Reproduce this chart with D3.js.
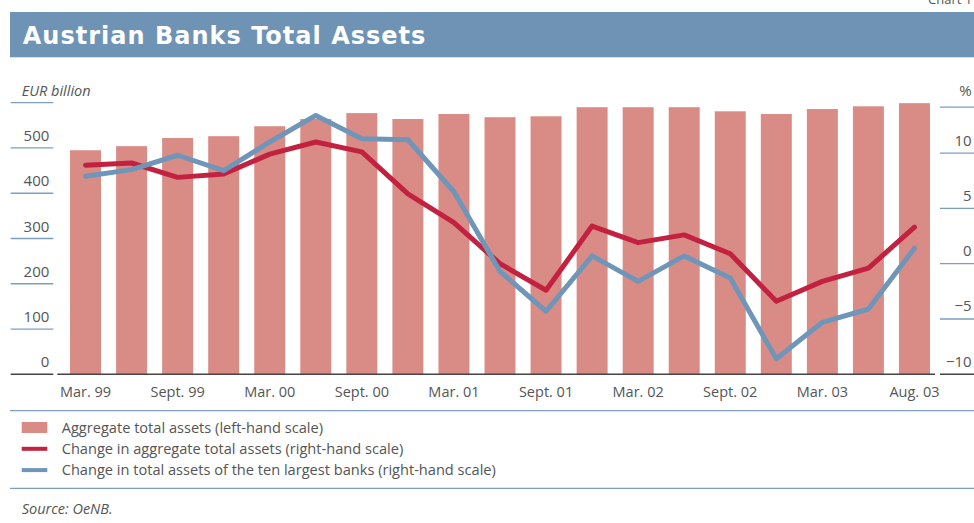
<!DOCTYPE html>
<html>
<head>
<meta charset="utf-8">
<script src="https://cdn.jsdelivr.net/npm/d3@7"></script>
<style>
	body { margin: 0; background: #fff; }
	svg { display: block; font-family: "Open Sans", sans-serif; }
</style>
</head>
<body>
<svg id="chart"></svg>
<script>
let width = 974;
let height = 523;

const periods = [
	"Mar. 99", "June 99", "Sept. 99", "Dec. 99",
	"Mar. 00", "June 00", "Sept. 00", "Dec. 00",
	"Mar. 01", "June 01", "Sept. 01", "Dec. 01",
	"Mar. 02", "June 02", "Sept. 02", "Dec. 02",
	"Mar. 03", "June 03", "Aug. 03"
];
const periodLabels = ["Mar. 99", "Sept. 99", "Mar. 00", "Sept. 00", "Mar. 01", "Sept. 01", "Mar. 02", "Sept. 02", "Mar. 03", "Aug. 03"];

// EUR billion
const totalAssets = [495, 504, 522, 526, 548, 564, 577, 564, 575, 568, 570, 590, 590, 590, 581, 575, 586, 592, 599];
// % change, right-hand scale
const changeAggregate = [8.9, 9.1, 7.8, 8.1, 9.9, 11.0, 10.1, 6.3, 3.7, 0.0, -2.4, 3.4, 1.9, 2.6, 0.9, -3.4, -1.6, -0.4, 3.3];
const changeTopTen = [7.9, 8.5, 9.8, 8.4, 11.0, 13.4, 11.3, 11.2, 6.5, -0.7, -4.3, 0.7, -1.6, 0.7, -1.3, -8.6, -5.3, -4.1, 1.4];

const leftTicks = [0, 100, 200, 300, 400, 500];
const rightTicks = [-10, -5, 0, 5, 10];

const legendItems = [
	{ label: "Aggregate total assets (left-hand scale)", type: "bar" },
	{ label: "Change in aggregate total assets (right-hand scale)", type: "red" },
	{ label: "Change in total assets of the ten largest banks (right-hand scale)", type: "blue" }
];

const colBar = "#d98c86";
const colRed = "#c2213f";
const colBlue = "#6f96b9";
const colRule = "#7b9ec1";
const colText = "#555";

function draw() {
	const svg = d3.select("#chart").attr("width", width).attr("height", height);
	svg.selectAll("*").remove();

	const x = d3.scaleBand()
		.domain(periods)
		.range([62.5, 937.5])
		.paddingInner(0.327)
		.paddingOuter(0.1635);
	const yL = d3.scaleLinear().domain([0, 600]).range([374.3, 102.7]);
	const yR = d3.scaleLinear().domain([-10, 14.55]).range([374.3, 102.7]);
	const base = yL(0);

	// corner note, cut off at the top as in the print
	svg.append("text")
		.attr("x", 928)
		.attr("y", 4)
		.attr("font-size", 13)
		.attr("fill", colText)
		.text("Chart 1");

	// title band
	svg.append("rect")
		.attr("x", 10)
		.attr("y", 12)
		.attr("width", width - 10)
		.attr("height", 45.3)
		.attr("fill", "#6e93b5");
	svg.append("text")
		.attr("x", 22.7)
		.attr("y", 43.5)
		.attr("font-family", "DejaVu Sans, sans-serif")
		.attr("font-size", 24)
		.attr("font-weight", "bold")
		.attr("fill", "#fff")
		.attr("textLength", 402.7)
		.attr("lengthAdjust", "spacing")
		.text("Austrian Banks Total Assets");

	// left scale
	const left = svg.append("g");
	left.selectAll("line")
		.data(leftTicks.concat([600]))
		.enter()
		.append("line")
		.attr("x1", 10.7)
		.attr("x2", 53.3)
		.attr("y1", (d) => yL(d))
		.attr("y2", (d) => yL(d))
		.attr("stroke", (d) => (d === 0 ? "#444" : colRule))
		.attr("stroke-width", (d) => (d === 0 ? 1.6 : 1.3));
	left.selectAll("text")
		.data(leftTicks)
		.enter()
		.append("text")
		.attr("x", 49.3)
		.attr("y", (d) => yL(d) - 7)
		.attr("text-anchor", "end")
		.attr("font-size", 15)
		.attr("fill", colText)
		.text((d) => d);
	left.append("text")
		.attr("x", 21.7)
		.attr("y", yL(600) - 7)
		.attr("font-size", 14.5)
		.attr("font-style", "italic")
		.attr("fill", colText)
		.text("EUR billion");

	// right scale
	const right = svg.append("g");
	right.selectAll("line")
		.data(rightTicks.concat([14.15]))
		.enter()
		.append("line")
		.attr("x1", 940)
		.attr("x2", width)
		.attr("y1", (d) => yR(d))
		.attr("y2", (d) => yR(d))
		.attr("stroke", (d) => (d === -10 ? "#444" : colRule))
		.attr("stroke-width", (d) => (d === -10 ? 1.6 : 1.3));
	right.selectAll("text")
		.data(rightTicks)
		.enter()
		.append("text")
		.attr("x", 971.7)
		.attr("y", (d) => yR(d) - 7.5)
		.attr("text-anchor", "end")
		.attr("font-size", 15)
		.attr("fill", colText)
		.text((d) => (d < 0 ? "\u2212" + Math.abs(d) : d));
	right.append("text")
		.attr("x", 971.7)
		.attr("y", yR(14.15) - 11)
		.attr("text-anchor", "end")
		.attr("font-size", 15)
		.attr("fill", colText)
		.text("%");

	// bars
	svg.append("g")
		.selectAll("rect")
		.data(totalAssets)
		.enter()
		.append("rect")
		.attr("x", (d, i) => x(periods[i]))
		.attr("y", (d) => yL(d))
		.attr("width", x.bandwidth())
		.attr("height", (d) => base - yL(d))
		.attr("fill", colBar);

	// baseline
	svg.append("line")
		.attr("x1", 57.3)
		.attr("x2", 935)
		.attr("y1", base)
		.attr("y2", base)
		.attr("stroke", "#444")
		.attr("stroke-width", 1.6);

	// lines
	const line = d3.line()
		.x((d, i) => x(periods[i]) + x.bandwidth() / 2)
		.y((d) => yR(d));
	[[changeAggregate, colRed], [changeTopTen, colBlue]].forEach(([series, col]) => {
		svg.append("path")
			.datum(series)
			.attr("d", line)
			.attr("fill", "none")
			.attr("stroke", col)
			.attr("stroke-width", 5)
			.attr("stroke-linejoin", "round")
			.attr("stroke-linecap", "round");
	});

	// period axis
	const xAxis = svg.append("g")
		.attr("transform", `translate(0,${base})`)
		.call(d3.axisBottom(x).tickValues(periodLabels).tickSize(0).tickPadding(12));
	xAxis.select(".domain").remove();
	xAxis.selectAll("text")
		.attr("font-family", "Open Sans, sans-serif")
		.attr("font-size", 14.5)
		.attr("fill", colText);

	// legend
	svg.append("line")
		.attr("x1", 10).attr("x2", width)
		.attr("y1", 410.7).attr("y2", 410.7)
		.attr("stroke", colRule).attr("stroke-width", 1.3);
	svg.append("line")
		.attr("x1", 10).attr("x2", width)
		.attr("y1", 488.3).attr("y2", 488.3)
		.attr("stroke", colRule).attr("stroke-width", 1.3);

	const legend = svg.append("g")
		.selectAll("g")
		.data(legendItems)
		.enter()
		.append("g")
		.attr("transform", (d, i) => `translate(0,${427.5 + i * 21.3})`);
	legend.filter((d) => d.type === "bar")
		.append("rect")
		.attr("x", 21.7)
		.attr("y", -5.5)
		.attr("width", 25.6)
		.attr("height", 11)
		.attr("fill", colBar);
	legend.filter((d) => d.type !== "bar")
		.append("rect")
		.attr("x", 21.7)
		.attr("y", -2)
		.attr("width", 25.6)
		.attr("height", 4)
		.attr("fill", (d) => (d.type === "red" ? colRed : colBlue));
	legend.append("text")
		.attr("x", 61.7)
		.attr("y", 5.2)
		.attr("font-size", 14.6)
		.attr("fill", colText)
		.text((d) => d.label);

	svg.append("text")
		.attr("x", 21.7)
		.attr("y", 514)
		.attr("font-size", 14.5)
		.attr("font-style", "italic")
		.attr("fill", colText)
		.text("Source: OeNB.");
}

draw();
</script>
</body>
</html>
